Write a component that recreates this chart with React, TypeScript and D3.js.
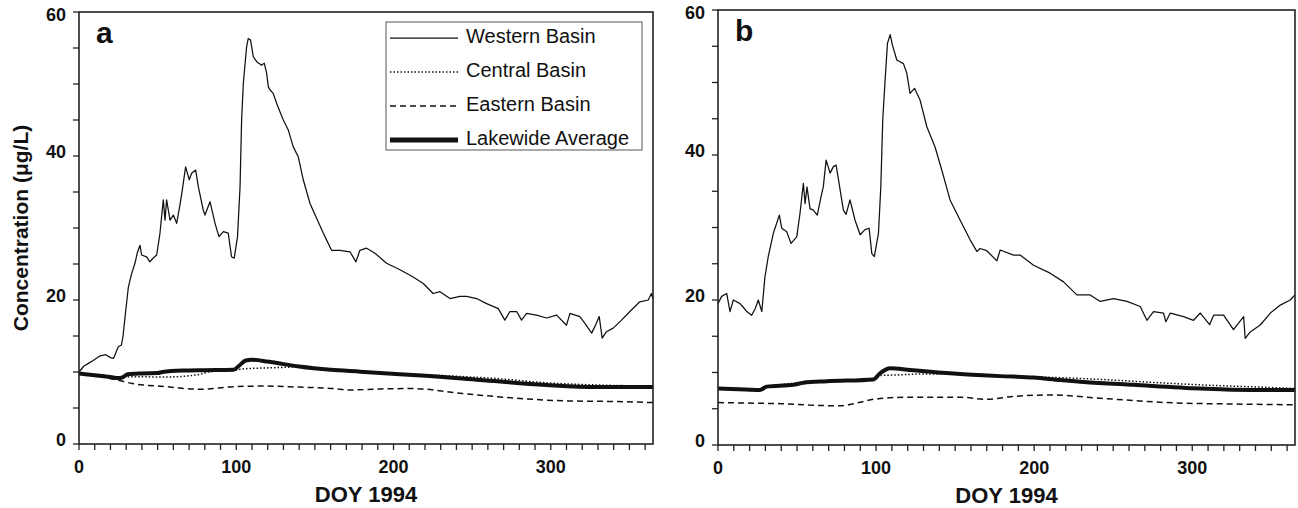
import React from "react";
import * as d3 from "d3";

type P = [number, number];

const xTickLabels = [0, 100, 200, 300];
const yTickLabels = [0, 20, 40, 60];
const legendLabels = ["Western Basin", "Central Basin", "Eastern Basin", "Lakewide Average"];
const panelLabels = ["a", "b"];

const westernA: P[] = [[0,10.0],[3,10.8],[6,11.2],[9,11.6],[13,12.2],[17,12.4],[20,12.0],[22,11.9],[25,13.5],[27,13.75],[28,15],[29.2,17.5],[31.4,21.8],[33.5,23.7],[35.6,25.1],[37,26.5],[38.8,27.6],[39.8,26.25],[43,26],[45.1,25.3],[47,25.8],[49.4,26.25],[51.5,29.3],[53.6,33.9],[54.7,31.1],[55.7,33.9],[57.9,31.1],[60,31.8],[62.1,30.65],[64.2,33.2],[65.7,35.3],[67.8,38.5],[70.1,36.7],[71.6,37.6],[74.2,38.05],[75.9,35.7],[79,32.5],[80.1,31.8],[83.3,33.65],[86.5,30.65],[89,28.8],[91.8,29.5],[94.9,29.3],[97,26],[98.7,25.8],[100.8,28.8],[102.4,35.7],[103.4,45],[104.5,50.1],[106.6,55.2],[107.6,56.3],[109.1,56.1],[110.8,53.8],[113,53.1],[116.1,52.6],[117.8,52.9],[119.3,51.5],[120.4,49.6],[121.4,49.2],[123.5,48.7],[125.7,47.3],[129.9,45],[133.1,43.6],[136.2,41.3],[139.4,39.9],[142.6,36.7],[146.9,33.4],[151.1,31.35],[156.4,28.8],[160.6,26.9],[165.9,26.9],[172.3,26.7],[176.1,25.3],[178.6,26.9],[182.9,27.2],[188.2,26.5],[195.6,25.1],[204.1,24.2],[212.5,23.2],[218.9,22.3],[225.2,20.9],[229.5,21.15],[235.9,20.2],[242.2,20.5],[246.5,20.5],[252.8,20.2],[259.2,19.5],[266.6,18.8],[270.8,17.2],[274,18.4],[278.3,18.4],[281.4,17.2],[284.6,18.15],[291,17.9],[297.3,17.5],[303.7,17.9],[310,16.5],[312.2,18.15],[318.5,17.7],[321.7,16.75],[326,15.4],[328,16.3],[330.8,17.7],[332.7,14.7],[335.4,15.6],[339.7,16.1],[345,17.2],[350.3,18.4],[356.6,19.75],[362,20],[364,20.9],[365,20.2]];
const centralA: P[] = [[0,9.8],[24,9.2],[30,9.3],[35,9.35],[54,9.3],[75,9.6],[85,10.1],[98,10.2],[103,10.4],[110,10.5],[125,10.6],[140,10.7],[160,10.3],[180,10.0],[200,9.8],[223,9.6],[245,9.35],[265,9.1],[297,8.5],[329,8.2],[365,8.05]];
const easternA: P[] = [[0,9.8],[12,9.4],[24,8.9],[34,8.4],[56,7.95],[77,7.6],[98,7.95],[119,8.05],[140,7.9],[162,7.7],[172,7.5],[192,7.65],[212,7.7],[244,7.0],[276,6.4],[308,6.0],[340,5.9],[365,5.75]];
const lakewideA: P[] = [[0,9.8],[10,9.55],[20,9.3],[25,9.15],[28,9.3],[31,9.7],[40,9.8],[50,9.85],[53,10.0],[66,10.2],[80,10.25],[98,10.3],[102,10.9],[106,11.6],[110,11.7],[120,11.45],[140,10.75],[160,10.3],[179,10.05],[204,9.7],[223,9.45],[255,8.9],[297,8.2],[329,7.9],[365,7.9]];

const westernB: P[] = [[0,19.5],[2.3,20.5],[5.5,20.9],[7.6,18.4],[9.7,20],[13.9,19.5],[16,19],[18.2,18.4],[21.3,17.9],[23.5,18.8],[25.5,20],[27.7,18.4],[29.7,23.2],[31.8,26],[35,29.2],[38.8,31.7],[40.3,29.9],[43.5,29.4],[46.2,27.8],[49.8,28.7],[51.9,32],[54,36.1],[55.1,33.3],[56.3,35.6],[58.2,32.6],[60.3,32.4],[62.8,31.7],[65.2,34.25],[66.6,35.6],[68.4,39.3],[70.9,37.5],[73,38.4],[74.7,38.6],[76.6,36.1],[79.3,32.4],[81,31.8],[83.5,33.8],[86.7,31],[89.9,29],[93,29.7],[95.6,29.9],[97.3,26.4],[98.9,26],[101.5,29.2],[103,35.6],[104.2,44.8],[105.7,50.3],[107.2,55.4],[108.9,56.6],[110.3,55.2],[113.1,53.1],[117.3,52.6],[119.4,51.3],[121.5,48.5],[124.3,49.2],[127.8,47.6],[132.1,43.9],[137.3,41.1],[141.6,37.9],[146.8,33.8],[153.2,31],[159.5,28.3],[163.7,26.7],[165.8,27.1],[170,26.8],[176.4,25.4],[178.5,26.9],[187,26.2],[191.1,26.2],[199.6,24.8],[210.1,23.7],[218.6,22.5],[227,20.7],[235.4,20.7],[241.8,19.8],[250.2,20.2],[258.7,19.8],[267.1,19.1],[271.3,17.2],[275.5,18.4],[281.8,18.2],[283.3,17],[286.1,18.2],[294.5,17.7],[300.8,17.2],[305.1,18.2],[311,16.6],[313.5,17.9],[319.8,17.9],[326.1,15.9],[329.3,16.8],[332.5,17.7],[333.5,14.7],[336.7,15.6],[343,16.55],[349.4,18.2],[355.7,19.3],[362,20],[365,20.7]];
const centralB: P[] = [[0,7.8],[26.6,7.6],[30.8,8.05],[54,8.6],[98.3,9.05],[103,9.6],[111,9.65],[132,9.8],[153,9.8],[178.5,9.5],[200,9.4],[241.8,9.05],[270,8.7],[305,8.3],[347,7.95],[365,7.8]];
const easternB: P[] = [[0,5.85],[26.6,5.75],[40,5.7],[58.2,5.5],[77.2,5.4],[88,5.8],[98.3,6.3],[121.5,6.6],[153.2,6.6],[170,6.3],[184.8,6.65],[210,6.9],[241.8,6.45],[284,5.85],[326,5.65],[365,5.55]];
const lakewideB: P[] = [[0,7.8],[13,7.7],[26.6,7.6],[30.8,8.05],[47.7,8.3],[54,8.6],[68.8,8.8],[98.3,9.05],[102.5,9.9],[108.9,10.6],[121.5,10.35],[153.2,9.8],[178.5,9.5],[199.6,9.3],[216.5,8.95],[231.2,8.7],[262.9,8.3],[305.1,7.8],[336.7,7.6],[365,7.6]];

const FONT = "'Liberation Sans', Arial, Helvetica, sans-serif";

const STYLES = [
  { width: 1.25, dash: undefined as string | undefined },
  { width: 1.5, dash: "1.5,2" },
  { width: 1.5, dash: "6,4" },
  { width: 4, dash: undefined as string | undefined },
];

interface PanelProps {
  left: number; right: number; top: number; bottom: number;
  label: string;
  western: P[]; central: P[]; eastern: P[]; lakewide: P[];
  legend: boolean;
}

function Panel(p: PanelProps) {
  const x = d3.scaleLinear().domain([0, 365]).range([p.left, p.right]);
  const y = d3.scaleLinear().domain([0, 60]).range([p.bottom, p.top]);
  const lineRaw = d3.line<P>().x(d => x(d[0])).y(d => y(d[1]));
  const lineSmooth = d3.line<P>().x(d => x(d[0])).y(d => y(d[1])).curve(d3.curveMonotoneX);
  const xMinor = d3.range(0, 366, 10);
  const yMinor = d3.range(0, 61, 5);
  const series = [p.western, p.central, p.eastern, p.lakewide];
  const legX = p.left + 307, legY = 22;
  return (
    <g>
      {series.slice(1).map((s, i) => (
        <path key={i} d={lineSmooth(s) || ""} fill="none" stroke="#111"
          strokeWidth={STYLES[i + 1].width} strokeDasharray={STYLES[i + 1].dash} />
      )).reverse()}
      <path d={lineRaw(p.western) || ""} fill="none" stroke="#111" strokeWidth={STYLES[0].width} strokeLinejoin="round" />
      <rect x={p.left} y={p.top} width={p.right - p.left} height={p.bottom - p.top} fill="none" stroke="#222" strokeWidth={1.6} />
      {xMinor.map(t => (
        <line key={"xt" + t} x1={x(t)} x2={x(t)} y1={p.bottom} y2={p.bottom + 6} stroke="#222" strokeWidth={1.3} />
      ))}
      {yMinor.map(t => (
        <line key={"yt" + t} x1={p.left - 6} x2={p.left} y1={y(t)} y2={y(t)} stroke="#222" strokeWidth={1.3} />
      ))}
      {xTickLabels.map(t => (
        <text key={"xl" + t} x={x(t)} y={p.bottom + 29} textAnchor="middle" fontFamily={FONT} fontWeight="bold" fontSize={18} fill="#111">{t}</text>
      ))}
      {yTickLabels.map(t => (
        <text key={"yl" + t} x={p.left - 13} y={Math.max(y(t), p.top + 7) - 3} textAnchor="end" dominantBaseline="middle" fontFamily={FONT} fontWeight="bold" fontSize={18} fill="#111">{t}</text>
      ))}
      <text x={(p.left + p.right) / 2} y={p.bottom + 58} textAnchor="middle" fontFamily={FONT} fontWeight="bold" fontSize={22} fill="#111">DOY 1994</text>
      <text x={p.left + 17} y={p.top + 31} fontFamily={FONT} fontWeight="bold" fontSize={30} fill="#111">{p.label}</text>
      {p.legend && (
        <g>
          <rect x={legX} y={legY} width={256} height={128} fill="#fff" stroke="#555" strokeWidth={1} />
          {legendLabels.map((lab, i) => {
            const ry = legY + 16 + i * 34;
            return (
              <g key={lab}>
                <line x1={legX + 4} x2={legX + 72} y1={ry} y2={ry} stroke="#111"
                  strokeWidth={STYLES[i].width === 4 ? 5 : STYLES[i].width} strokeDasharray={STYLES[i].dash} />
                <text x={legX + 80} y={ry} dominantBaseline="middle" fontFamily={FONT} fontSize={20} fill="#111">{lab}</text>
              </g>
            );
          })}
        </g>
      )}
    </g>
  );
}

export default function App() {
  return (
    <svg width={1298} height={508} style={{ position: "absolute", left: 0, top: 0, background: "#fff" }}>
      <rect x={0} y={0} width={1298} height={508} fill="#fff" />
      <text transform="translate(28,228) rotate(-90)" textAnchor="middle" fontFamily={FONT} fontWeight="bold" fontSize={21} fill="#111">Concentration (μg/L)</text>
      <Panel left={79} right={653} top={12} bottom={444} label={panelLabels[0]}
        western={westernA} central={centralA} eastern={easternA} lakewide={lakewideA} legend={true} />
      <Panel left={718} right={1295} top={10} bottom={445} label={panelLabels[1]}
        western={westernB} central={centralB} eastern={easternB} lakewide={lakewideB} legend={false} />
    </svg>
  );
}
